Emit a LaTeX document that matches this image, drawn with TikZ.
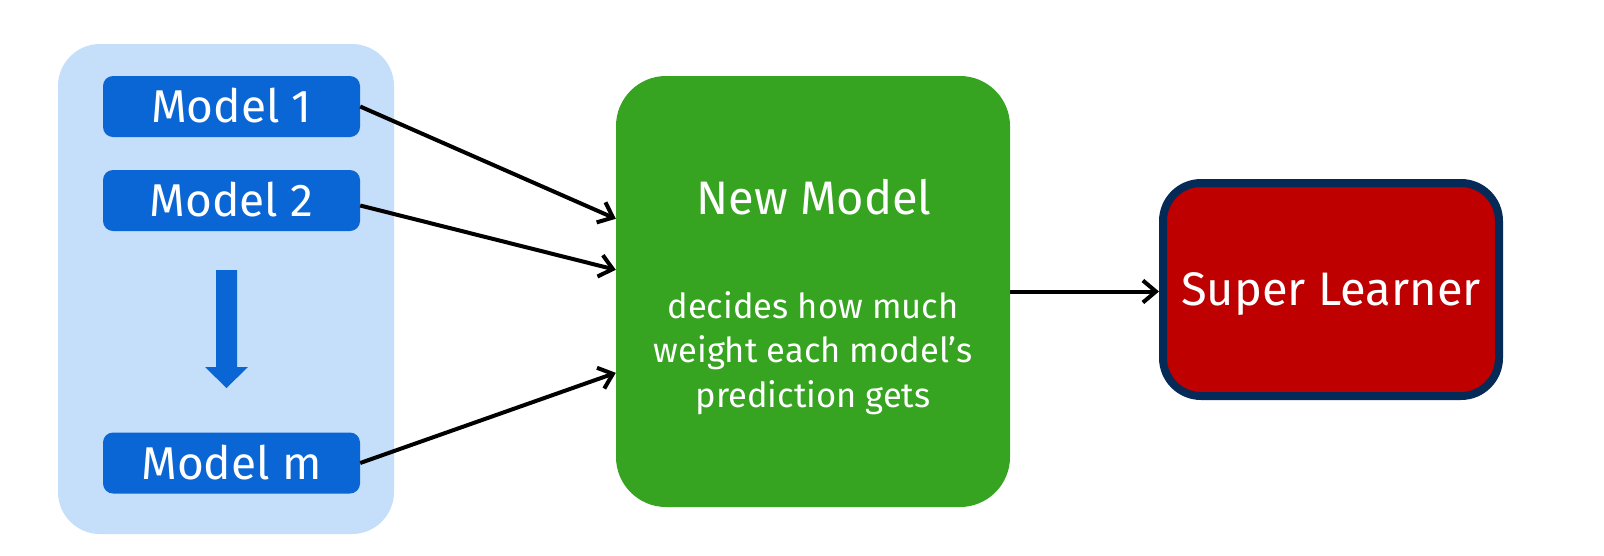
\documentclass[tikz,border=0pt]{standalone}
\usepackage{fontspec}
\setmainfont{Fira Sans}
\usetikzlibrary{arrows.meta,positioning,calc}
\definecolor{contbg}{HTML}{C5DFFB}
\definecolor{modelblue}{HTML}{0A66D4}
\definecolor{newgreen}{HTML}{36A420}
\definecolor{superred}{HTML}{BF0000}
\definecolor{navy}{HTML}{062A57}
\tikzset{
  modelbox/.style={fill=modelblue, rounded corners=10pt, minimum width=257pt, minimum height=61pt,
    inner sep=0pt, text=white, font=\fontsize{46}{50}\selectfont, text height=32pt, text depth=0pt},
  conn/.style={line width=4pt, -{Straight Barb[length=13pt,width=22pt,line width=4pt]}},
  subtext/.style={text=white, font=\fontsize{34.5}{44}\selectfont, anchor=base},
}
\begin{document}
\begin{tikzpicture}[x=1pt,y=-1pt]
\useasboundingbox (0,0) rectangle (1604,555);
% container
\node[fill=contbg, rounded corners=42pt, minimum width=336pt, minimum height=490pt, inner sep=0pt] (cont) at (226,289) {};
% model boxes
\node[modelbox] (m1) at (231.5,106.5) {Model 1};
\node[modelbox] (m2) at (231.5,200.5) {Model 2};
\node[modelbox] (mm) at (231.5,463) {Model m};
% down arrow
\fill[modelblue] (216,270) -- (237,270) -- (237,367) -- (248,367) -- (226.5,388) -- (205,367) -- (216,367) -- cycle;
% new model
\node[fill=newgreen, rounded corners=50pt, minimum width=394pt, minimum height=431pt, inner sep=0pt] (nm) at (813,291.5) {};
\node[text=white, font=\fontsize{47}{50}\selectfont, anchor=base] (nmt) at (814,214) {New Model};
\node[subtext] (s1) at (813,318) {decides how much};
\node[subtext] (s2) at (813,362) {weight each model’s};
\node[subtext] (s3) at (813,407) {prediction gets};
% super learner
\node[fill=superred, draw=navy, line width=8pt, rounded corners=38pt, minimum width=336pt, minimum height=213pt,
  inner sep=0pt, text=white, font=\fontsize{47}{50}\selectfont, text height=32.5pt, text depth=0pt] (sl) at (1331,289.5) {Super Learner};
% connectors
\draw[conn] (m1.east) -- ([yshift=-143pt]nm.north west);
\draw[conn] ([yshift=-5pt]m2.east) -- ([yshift=-194pt]nm.north west);
\draw[conn] (mm.east) -- ([yshift=-297pt]nm.north west);
\draw[conn] (nm.east) -- (nm.east -| sl.west);
\end{tikzpicture}
\end{document}
